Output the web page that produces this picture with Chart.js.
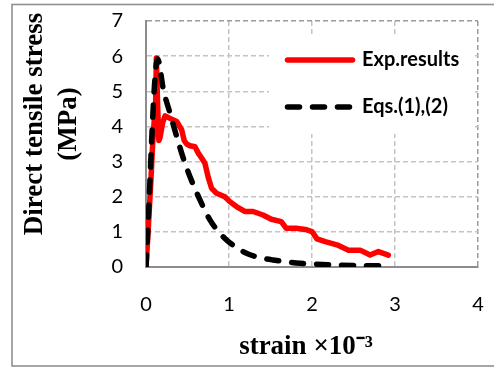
<!DOCTYPE html>
<html><head><meta charset="utf-8">
<script src="https://cdn.jsdelivr.net/npm/chart.js@4/dist/chart.umd.min.js"></script>
<style>html,body{margin:0;padding:0;background:#fff;overflow:hidden}</style>
</head><body>
<canvas id="c" width="494" height="367"></canvas>
<script>
// ---- data ----
const expStrain = [0, 0.03, 0.06, 0.08, 0.10, 0.11, 0.125, 0.14, 0.155, 0.17, 0.20, 0.23, 0.29, 0.37, 0.43, 0.46, 0.49, 0.53, 0.59, 0.63, 0.67, 0.71, 0.75, 0.79, 0.85, 0.95, 1.01, 1.09, 1.19, 1.29, 1.41, 1.51, 1.63, 1.69, 1.81, 1.92, 2.00, 2.06, 2.16, 2.30, 2.44, 2.58, 2.70, 2.80, 2.92];
const expStress = [0, 1.2, 2.5, 3.5, 4.2, 3.8, 5.95, 4.6, 3.6, 3.7, 4.1, 4.3, 4.23, 4.14, 3.9, 3.6, 3.5, 3.45, 3.42, 3.24, 3.1, 2.95, 2.55, 2.24, 2.1, 2.0, 1.86, 1.72, 1.58, 1.58, 1.48, 1.36, 1.29, 1.10, 1.10, 1.07, 1.01, 0.80, 0.72, 0.63, 0.48, 0.48, 0.34, 0.44, 0.34];
const eqStrain = [0, 0.14, 0.21, 0.29, 0.37, 0.45, 0.53, 0.65, 0.77, 0.89, 0.97, 1.05, 1.21, 1.35, 1.53, 1.86, 2.26, 2.60, 2.90];
const eqStress = [0, 5.92, 5.04, 4.37, 3.71, 3.09, 2.57, 1.91, 1.34, 0.96, 0.77, 0.62, 0.39, 0.28, 0.20, 0.105, 0.06, 0.04, 0.03];
const xTicks = [0, 1, 2, 3, 4];
const yTicks = [0, 1, 2, 3, 4, 5, 6, 7];
const seriesNames = ['Exp.results', 'Eqs.(1),(2)'];
const yTitle = ['Direct tensile stress', '(MPa)'];
const xTitle = 'strain \u00d710\u207b\u00b3';

const toPts = (xs, ys) => xs.map((x, i) => ({x, y: ys[i]}));
const noPad = s => { s.paddingTop = 0; s.paddingBottom = 0; s.paddingLeft = 0; s.paddingRight = 0; };

const framePlugin = {
  id: 'frame',
  beforeDraw(chart) {
    const ctx = chart.ctx;
    ctx.save();
    ctx.fillStyle = '#fff';
    ctx.fillRect(0, 0, chart.width, chart.height);
    ctx.strokeStyle = '#8f8f8f';
    ctx.lineWidth = 1.6;
    ctx.strokeRect(12, 4.5, 490, 361.5);
    ctx.restore();
  }
};

const legendPlugin = {
  id: 'boxLegend',
  afterDatasetsDraw(chart) {
    const ctx = chart.ctx;
    ctx.save();
    ctx.fillStyle = '#fff';
    ctx.fillRect(269, 34, 203, 100);
    const ys = [60, 107];
    chart.data.datasets.forEach((ds, i) => {
      const y = ys[i];
      ctx.beginPath();
      ctx.setLineDash(ds.borderDash || []);
      ctx.lineCap = 'round';
      ctx.lineWidth = ds.borderWidth;
      ctx.strokeStyle = ds.borderColor;
      ctx.moveTo(287.5, y);
      ctx.lineTo(i === 0 ? 352.5 : 351, y);
      ctx.stroke();
      ctx.setLineDash([]);
      ctx.fillStyle = '#000';
      ctx.font = 'bold 20px Lato';
      ctx.textAlign = 'left';
      ctx.textBaseline = 'middle';
      ctx.fillText(ds.label, 362, y);
    });
    ctx.restore();
  }
};

const titlePlugin = {
  id: 'axisTitles',
  afterDraw(chart) {
    const ctx = chart.ctx;
    ctx.save();
    ctx.fillStyle = '#000';
    ctx.font = 'bold 27px "Liberation Serif"';
    ctx.textAlign = 'center';
    ctx.textBaseline = 'middle';
    yTitle.forEach((t, i) => {
      ctx.save();
      ctx.translate(35 + i * 34, 124);
      ctx.rotate(-Math.PI / 2);
      ctx.fillText(t, 0, 0);
      ctx.restore();
    });
    ctx.fillText(xTitle, 306, 347);
    ctx.restore();
  }
};

new Chart(document.getElementById('c'), {
  type: 'line',
  data: {
    datasets: [
      {
        label: seriesNames[0],
        data: toPts(expStrain, expStress),
        borderColor: '#ff0000',
        borderWidth: 5.5,
        borderJoinStyle: 'round',
        borderCapStyle: 'round',
        pointRadius: 0,
        tension: 0,
        fill: false,
        order: 2
      },
      {
        label: seriesNames[1],
        data: toPts(eqStrain, eqStress),
        borderColor: '#000000',
        borderWidth: 5.5,
        borderDash: [12, 13],
        borderCapStyle: 'round',
        borderJoinStyle: 'round',
        cubicInterpolationMode: 'monotone',
        pointRadius: 0,
        fill: false,
        order: 1
      }
    ]
  },
  options: {
    responsive: false,
    animation: false,
    devicePixelRatio: 1,
    layout: {padding: {top: 21, right: 16, left: 0, bottom: 0}},
    plugins: {legend: {display: false}, tooltip: {enabled: false}},
    scales: {
      x: {
        type: 'linear',
        min: xTicks[0],
        max: xTicks[xTicks.length - 1],
        afterBuildTicks: s => { s.ticks = xTicks.map(v => ({value: v})); },
        afterFit: s => { s.height = 100; noPad(s); },
        ticks: {font: {family: 'Lato', size: 20}, color: '#000', padding: 26, maxRotation: 0},
        grid: {
          drawTicks: false,
          lineWidth: 1.5,
          color: c => (c.tick && c.tick.value === 4) ? '#9a9a9a' : '#c4c4c4'
        },
        border: {color: '#8c8c8c', width: 2, dash: [5, 3]}
      },
      y: {
        type: 'linear',
        min: yTicks[0],
        max: yTicks[yTicks.length - 1],
        afterBuildTicks: s => { s.ticks = yTicks.map(v => ({value: v})); },
        afterFit: s => { s.width = 146; noPad(s); },
        ticks: {font: {family: 'Lato', size: 20}, color: '#000', padding: 23},
        grid: {
          drawTicks: false,
          lineWidth: 1.5,
          color: c => (c.tick && c.tick.value === 7) ? '#9a9a9a' : '#c4c4c4'
        },
        border: {color: '#8c8c8c', width: 2, dash: [5, 3]}
      }
    }
  },
  plugins: [framePlugin, legendPlugin, titlePlugin]
});
</script>
</body></html>
